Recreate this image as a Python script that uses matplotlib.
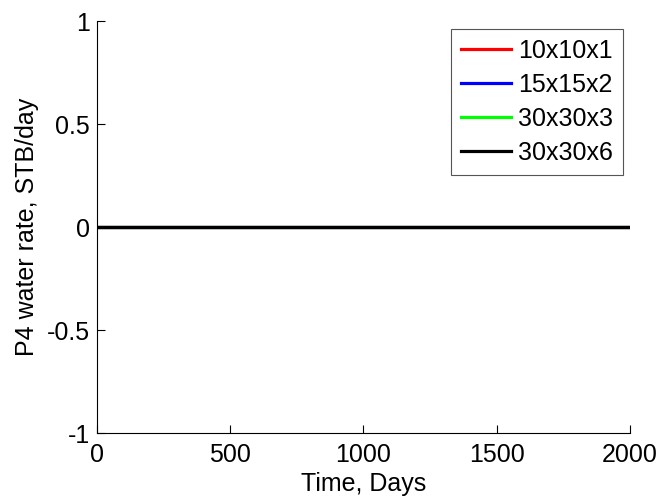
import matplotlib
matplotlib.use('Agg')
import matplotlib.pyplot as plt

# Data: every grid case gives zero P4 water rate
time_days = [0, 500, 1000, 1500, 2000]
rate_10x10x1 = [0, 0, 0, 0, 0]
rate_15x15x2 = [0, 0, 0, 0, 0]
rate_30x30x3 = [0, 0, 0, 0, 0]
rate_30x30x6 = [0, 0, 0, 0, 0]

series = [
    ('10x10x1', rate_10x10x1, '#ff0000'),
    ('15x15x2', rate_15x15x2, '#0000ff'),
    ('30x30x3', rate_30x30x3, '#00ff00'),
    ('30x30x6', rate_30x30x6, '#000000'),
]

xticks = [0, 500, 1000, 1500, 2000]
yticks = [-1, -0.5, 0, 0.5, 1]

plt.rcParams.update({
    'font.family': ['Liberation Sans', 'DejaVu Sans'],
    'font.size': 18,
    'axes.unicode_minus': False,
    'axes.linewidth': 0.8,
})

fig = plt.figure(figsize=(6.61, 4.98), dpi=100)
ax = fig.add_axes([0.1467, 0.1305, 0.953 - 0.1467, 0.9578 - 0.1305])

for name, vals, col in series:
    ax.plot(time_days, vals, color=col, linewidth=2.3, label=name)

ax.set_xlim(0, 2000)
ax.set_ylim(-1, 1)
ax.set_xticks(xticks)
ax.set_yticks(yticks)
ax.set_yticklabels(['-1', '-0.5', '0', '0.5', '1'])
ax.tick_params(direction='in', length=6, width=0.8)
ax.tick_params(axis='x', pad=7)
ax.tick_params(axis='y', pad=5)
ax.spines['top'].set_visible(False)
ax.spines['right'].set_visible(False)

ax.set_xlabel('Time, Days', labelpad=4)
ax.set_ylabel('P4 water rate, STB/day', labelpad=6)

leg = ax.legend(loc='upper right', bbox_to_anchor=(623 / 661, 1 - 29 / 498),
                bbox_transform=fig.transFigure, fancybox=False, framealpha=1,
                edgecolor='#555555', handlelength=2.0, handletextpad=0.3,
                labelspacing=0.4, borderpad=0.4, borderaxespad=0)
leg.get_frame().set_linewidth(0.8)

fig.savefig('out.png', dpi=100)
